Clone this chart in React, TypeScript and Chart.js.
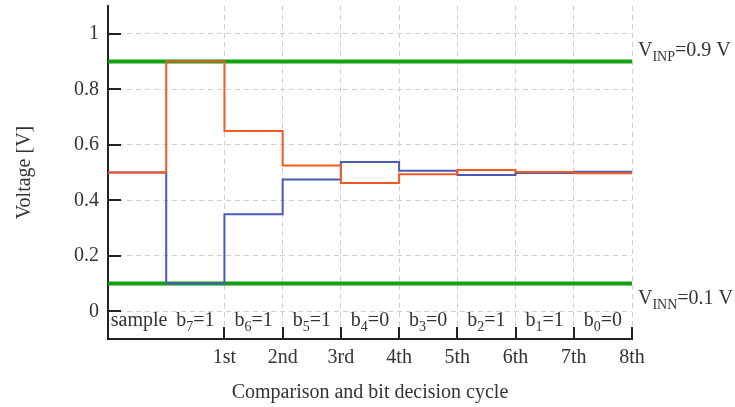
import React, { useEffect, useRef } from 'react';
import { Chart, registerables } from 'chart.js';

Chart.register(...registerables);

// ---- data ----
const cycleTicks = [1, 2, 3, 4, 5, 6, 7, 8];
const cycleLabels = ['1st', '2nd', '3rd', '4th', '5th', '6th', '7th', '8th'];
const phaseStarts = [-1, 0, 1, 2, 3, 4, 5, 6, 7];
const phaseEnd = 8;
const vinpTrace = [0.5, 0.9, 0.65, 0.525, 0.4625, 0.49375, 0.509375, 0.5015625, 0.49765625];
const vinnTrace = [0.5, 0.1, 0.35, 0.475, 0.5375, 0.50625, 0.490625, 0.4984375, 0.50234375];
const vinpRef = 0.9;
const vinnRef = 0.1;
const yTicks = [0, 0.2, 0.4, 0.6, 0.8, 1];
const bitIndices = [7, 6, 5, 4, 3, 2, 1, 0];
const bitValues = [1, 1, 1, 0, 0, 1, 1, 0];
const sampleLabel = 'sample';

const FONT = '"Liberation Serif", "Times New Roman", serif';
const TEXT = '#333';
const AXIS = '#222';
const ORANGE = '#f15a22';
const BLUE = '#4a5ab5';
const GREEN = '#10a010';

const stepPoints = (trace: number[]) =>
  phaseStarts.map((x, i) => ({ x, y: trace[i] })).concat([{ x: phaseEnd, y: trace[trace.length - 1] }]);

type Part = { t: string; sub?: boolean };

function drawRich(ctx: CanvasRenderingContext2D, parts: Part[], x: number, y: number, align: 'left' | 'center', size: number) {
  const subSize = Math.round(size * 0.7);
  const widths = parts.map((p) => {
    ctx.font = `${p.sub ? subSize : size}px ${FONT}`;
    return ctx.measureText(p.t).width;
  });
  const total = widths.reduce((a, b) => a + b, 0);
  let cx = align === 'center' ? x - total / 2 : x;
  ctx.textAlign = 'left';
  ctx.textBaseline = 'alphabetic';
  parts.forEach((p, i) => {
    ctx.font = `${p.sub ? subSize : size}px ${FONT}`;
    ctx.fillText(p.t, cx, p.sub ? y + 5 : y);
    cx += widths[i];
  });
}

const overlayPlugin = {
  id: 'overlay',
  afterDraw(chart: any) {
    const { ctx, chartArea, scales } = chart;
    const x = scales.x;
    const y = scales.y;
    ctx.save();
    ctx.strokeStyle = AXIS;
    ctx.lineWidth = 2;
    yTicks.forEach((v) => {
      const py = Math.round(y.getPixelForValue(v));
      ctx.beginPath();
      ctx.moveTo(chartArea.left, py);
      ctx.lineTo(chartArea.left + 13, py);
      ctx.stroke();
    });
    cycleTicks.forEach((v) => {
      const px = Math.round(x.getPixelForValue(v));
      ctx.beginPath();
      ctx.moveTo(px, chartArea.bottom);
      ctx.lineTo(px, chartArea.bottom - 12);
      ctx.stroke();
    });

    ctx.fillStyle = TEXT;
    const bandY = y.getPixelForValue(-0.05) + 1;
    drawRich(ctx, [{ t: sampleLabel }], (x.getPixelForValue(-1) + x.getPixelForValue(0)) / 2 + 2, bandY, 'center', 20);
    bitIndices.forEach((b, i) => {
      const cx = (x.getPixelForValue(i) + x.getPixelForValue(i + 1)) / 2;
      drawRich(ctx, [{ t: 'b' }, { t: String(b), sub: true }, { t: '=' + bitValues[i] }], cx, bandY, 'center', 20);
    });

    const lx = chartArea.right + 6;
    drawRich(ctx, [{ t: 'V' }, { t: 'INP', sub: true }, { t: '=' + vinpRef + ' V' }], lx, y.getPixelForValue(vinpRef) - 5.5, 'left', 20);
    drawRich(ctx, [{ t: 'V' }, { t: 'INN', sub: true }, { t: '=' + vinnRef + ' V' }], lx, y.getPixelForValue(vinnRef) + 20.5, 'left', 20);
    ctx.restore();
  },
};

export default function App() {
  const ref = useRef<HTMLCanvasElement>(null);
  useEffect(() => {
    if (!ref.current) return;
    const chart = new Chart(ref.current, {
      type: 'line',
      data: {
        datasets: [
          { label: 'VINP', data: stepPoints(vinpTrace), borderColor: ORANGE, borderWidth: 2, stepped: 'before', pointRadius: 0, fill: false },
          { label: 'VINN', data: stepPoints(vinnTrace), borderColor: BLUE, borderWidth: 2, stepped: 'before', pointRadius: 0, fill: false },
          { label: 'ref+', data: [{ x: -1, y: vinpRef }, { x: phaseEnd, y: vinpRef }], borderColor: GREEN, borderWidth: 4, pointRadius: 0, fill: false },
          { label: 'ref-', data: [{ x: -1, y: vinnRef }, { x: phaseEnd, y: vinnRef }], borderColor: GREEN, borderWidth: 4, pointRadius: 0, fill: false },
        ],
      },
      options: {
        responsive: false,
        animation: false,
        devicePixelRatio: 1,
        layout: { padding: { left: 0, right: 103, top: 6, bottom: 0 } },
        plugins: { legend: { display: false }, tooltip: { enabled: false } },
        scales: {
          x: {
            type: 'linear',
            min: -1,
            max: 8,
            afterBuildTicks: (s: any) => {
              s.ticks = cycleTicks.map((v) => ({ value: v }));
            },
            afterFit: (s: any) => {
              s.height = 68;
              s.paddingLeft = 0;
              s.paddingRight = 0;
            },
            ticks: {
              color: TEXT,
              font: { family: FONT, size: 20 },
              padding: 7,
              maxRotation: 0,
              autoSkip: false,
              callback: (v: any) => cycleLabels[cycleTicks.indexOf(Number(v))] ?? '',
            },
            grid: { color: '#cfcfcf', lineWidth: 1, drawTicks: false },
            border: { display: true, color: AXIS, width: 2, dash: [5, 4] },
            title: { display: true, text: 'Comparison and bit decision cycle', color: TEXT, font: { family: FONT, size: 20 }, padding: { top: 0, bottom: 2 } },
          },
          y: {
            type: 'linear',
            min: -0.1,
            max: 1.1,
            afterBuildTicks: (s: any) => {
              s.ticks = yTicks.map((v) => ({ value: v }));
            },
            afterFit: (s: any) => {
              s.width = 108;
              s.paddingTop = 0;
              s.paddingBottom = 0;
            },
            ticks: {
              color: TEXT,
              font: { family: FONT, size: 20 },
              padding: 9,
              callback: (v: any) => String(Math.round(Number(v) * 10) / 10),
            },
            grid: { color: '#cfcfcf', lineWidth: 1, drawTicks: false },
            border: { display: true, color: AXIS, width: 2, dash: [5, 4] },
            title: { display: true, text: 'Voltage [V]', color: TEXT, font: { family: FONT, size: 20 }, padding: { top: 13, bottom: 0 } },
          },
        },
      },
      plugins: [overlayPlugin],
    });
    return () => chart.destroy();
  }, []);
  return (
    <div style={{ position: 'fixed', left: 0, top: 0, width: 735, height: 407 }}>
      <canvas ref={ref} width={735} height={407} />
    </div>
  );
}
